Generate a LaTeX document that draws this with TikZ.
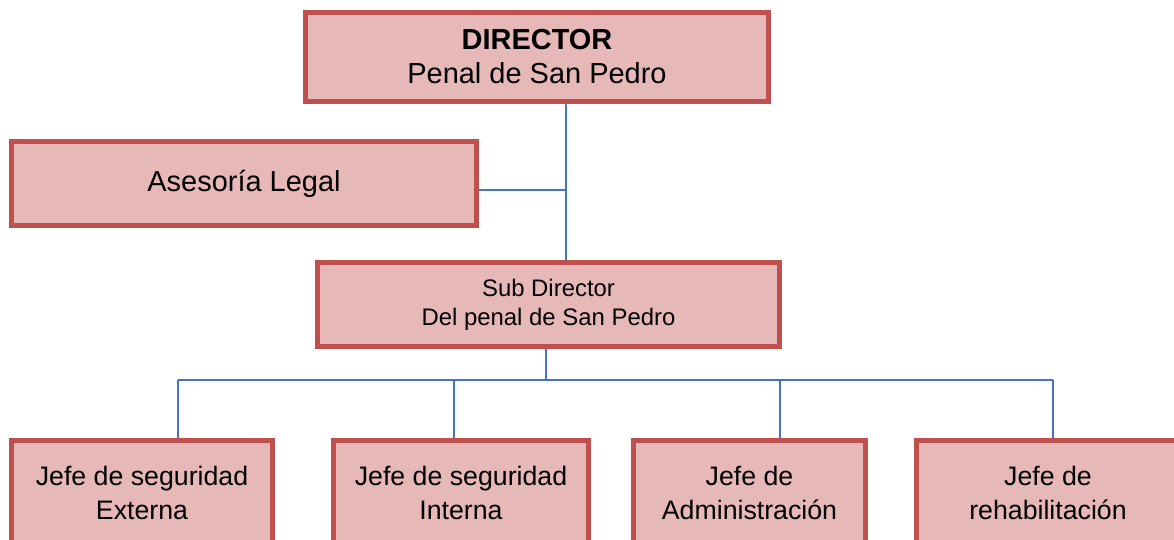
\documentclass[tikz,border=0pt]{standalone}
\usepackage{fontspec}
\setmainfont{Liberation Sans}
\usepackage{tikz}
\definecolor{boxfill}{RGB}{230, 184, 183}
\definecolor{boxline}{RGB}{192, 80, 77}
\definecolor{linkblue}{RGB}{68, 114, 196}

\begin{document}
\begin{tikzpicture}[x=0.025cm, y=-0.025cm,
    cargo/.style={draw=boxline, fill=boxfill, line width=3.5pt, align=center, inner sep=0pt},
    jefe/.style={cargo, minimum height=2.625cm, font=\fontsize{19}{24.5}\selectfont},
    enlace/.style={linkblue, line width=1.1pt}]
        % 画布
        \useasboundingbox (0,0) rectangle (1174,539);

        % 上层
        \node[cargo, minimum width=11.575cm, minimum height=2.225cm, font=\fontsize{20.6}{24.2}\selectfont] (director) at (537,57) {\textbf{DIRECTOR}\\Penal de San Pedro};
        \node[cargo, minimum width=11.6cm, minimum height=2.1cm, font=\fontsize{20.6}{24.2}\selectfont] (asesoria) at (244,183.5) {Asesoría Legal};
        \node[cargo, minimum width=11.55cm, minimum height=2.1cm, font=\fontsize{17}{20.6}\selectfont] (subdirector) at (548.5,304.5) {Sub Director\\Del penal de San Pedro};

        % 下层
        \node[jefe, minimum width=6.525cm] (jefe1) at (142,493) {Jefe de seguridad\\Externa};
        \node[jefe, minimum width=6.375cm] (jefe2) at (461,493) {Jefe de seguridad\\Interna};
        \node[jefe, minimum width=5.8cm] (jefe3) at (749.5,493) {Jefe de\\Administración};
        \node[jefe, minimum width=6.5875cm] (jefe4) at (1048,493) {Jefe de\\rehabilitación};

        % 连线
        \coordinate (nudo) at (566,190);
        \coordinate (b0) at (546,380);
        \coordinate (b1) at (178,380);
        \coordinate (b2) at (454,380);
        \coordinate (b3) at (780,380);
        \coordinate (b4) at (1053,380);
        \draw[enlace] (director.south -| nudo) -- (subdirector.north -| nudo);
        \draw[enlace] (asesoria.east |- nudo) -- (nudo);
        \draw[enlace] (subdirector.south -| b0) -- (b0);
        \draw[enlace] (b1) -- (b4);
        \foreach \i in {1,...,4}
            \draw[enlace] (b\i) -- (jefe\i.north -| b\i);
    \end{tikzpicture}
\end{document}
